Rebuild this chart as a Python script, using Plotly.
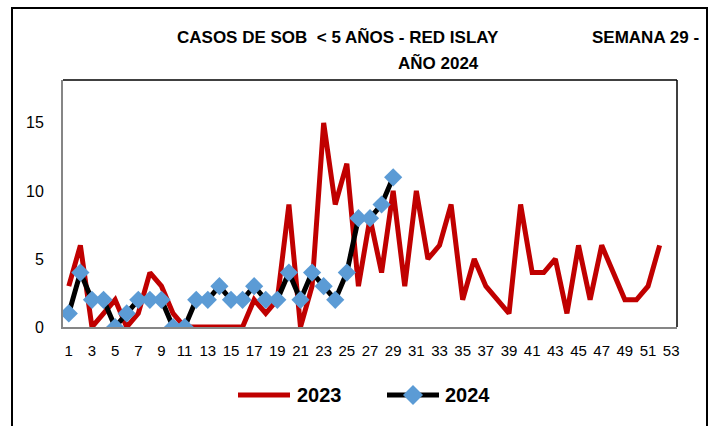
import plotly.graph_objects as go

# ---- data ----
weeks_2023 = list(range(1, 53))
cases_2023 = [3, 6, 0, 1, 2, 0, 1, 4, 3, 1, 0, 0, 0, 0, 0, 0, 2, 1, 2, 9,
              0, 3, 15, 9, 12, 3, 8, 4, 10, 3, 10, 5, 6, 9, 2, 5, 3, 2, 1, 9,
              4, 4, 5, 1, 6, 2, 6, 4, 2, 2, 3, 6]
weeks_2024 = list(range(1, 30))
cases_2024 = [1, 4, 2, 2, 0, 1, 2, 2, 2, 0, 0, 2, 2, 3, 2, 2, 3, 2, 2, 4,
              2, 4, 3, 2, 4, 8, 8, 9, 11]
x_tick_labels = [str(v) for v in range(1, 54, 2)]
y_tick_values = [0, 5, 10, 15]
series_names = ["2023", "2024"]

RED = "rgb(192,0,0)"
BLUE = "rgb(91,155,213)"

W, H = 718, 426
L, R, T, B = 63, 677, 80, 327  # plot area pixel box


def px(x):
    return (x - L) / (R - L)


def py(y):
    return (B - y) / (B - T)


fig = go.Figure()
fig.add_trace(go.Scatter(x=weeks_2023, y=cases_2023, mode="lines", name=series_names[0],
                         line=dict(color=RED, width=5), showlegend=False))
fig.add_trace(go.Scatter(x=weeks_2024, y=cases_2024, mode="lines+markers", name=series_names[1],
                         line=dict(color="black", width=5),
                         marker=dict(symbol="diamond", size=14, color=BLUE, line=dict(width=0)),
                         showlegend=False))

TITLE_FONT = dict(family="Liberation Sans, Arial, sans-serif", size=17, color="black")
LEG_FONT = dict(family="Liberation Sans, Arial, sans-serif", size=20, color="black")

annotations = [
    dict(text="<b>CASOS DE SOB  &lt; 5 AÑOS - RED ISLAY</b>", x=px(338), y=py(37),
         xanchor="center", yanchor="middle", font=TITLE_FONT),
    dict(text="<b>SEMANA 29 -</b>", x=px(701), y=py(37),
         xanchor="right", yanchor="middle", font=TITLE_FONT),
    dict(text="<b>AÑO 2024</b>", x=px(438), y=py(63),
         xanchor="center", yanchor="middle", font=TITLE_FONT),
    dict(text="<b>" + series_names[0] + "</b>", x=px(295), y=py(395), xanchor="left",
         yanchor="middle", font=LEG_FONT),
    dict(text="<b>" + series_names[1] + "</b>", x=px(443), y=py(395), xanchor="left",
         yanchor="middle", font=LEG_FONT),
]
for a in annotations:
    a.update(xref="paper", yref="paper", showarrow=False)

shapes = [
    # outer chart border
    dict(type="rect", x0=px(12), x1=px(707), y0=py(8), y1=py(440),
         line=dict(color="black", width=2), fillcolor="rgba(0,0,0,0)", layer="below"),
    # plot area frame (top/right black)
    dict(type="line", x0=0, x1=1, y0=1, y1=1, line=dict(color="black", width=1.5)),
    dict(type="line", x0=1, x1=1, y0=0, y1=1, line=dict(color="black", width=1.5)),
    # legend lines
    dict(type="line", x0=px(238), x1=px(290), y0=py(395), y1=py(395),
         line=dict(color=RED, width=5)),
    dict(type="line", x0=px(387), x1=px(439), y0=py(395), y1=py(395),
         line=dict(color="black", width=5)),
    # legend diamond
    dict(type="path",
         path="M {} {} L {} {} L {} {} L {} {} Z".format(
             px(413), py(385), px(423), py(395), px(413), py(405), px(403), py(395)),
         fillcolor=BLUE, line=dict(width=0)),
]
for s in shapes:
    s.update(xref="paper", yref="paper")

fig.update_layout(
    width=W, height=H,
    margin=dict(l=L, r=W - R, t=T, b=H - B, autoexpand=False),
    paper_bgcolor="white", plot_bgcolor="white",
    showlegend=False,
    annotations=annotations,
    shapes=shapes,
    font=dict(family="Liberation Sans, Arial, sans-serif", size=15, color="black"),
    xaxis=dict(range=[0.5, 53.5], tickmode="array",
               tickvals=list(range(1, 54, 2)), ticktext=x_tick_labels,
               showgrid=False, zeroline=False, showline=True, linecolor="rgb(134,134,134)",
               linewidth=2, ticks="outside", ticklen=9, tickcolor="rgba(0,0,0,0)",
               tickfont=dict(size=15)),
    yaxis=dict(range=[0, 18.15], tickmode="array", tickvals=y_tick_values,
               showgrid=False, zeroline=False, showline=True, linecolor="rgb(134,134,134)",
               linewidth=2, ticks="outside", ticklen=14, tickcolor="rgba(0,0,0,0)",
               tickfont=dict(size=16)),
)

fig.write_html("out.html", config={"displayModeBar": False},
               post_script="document.body.style.margin='0px';")
